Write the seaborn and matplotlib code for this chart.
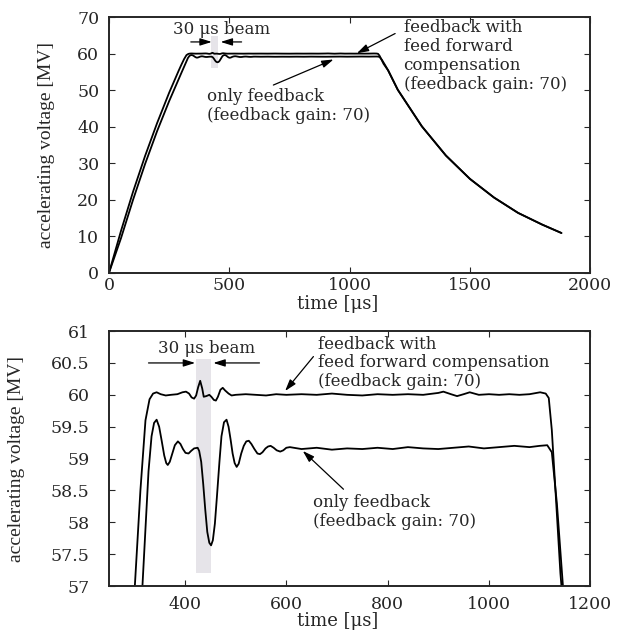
import numpy as np
import seaborn as sns
import matplotlib.pyplot as plt

# feedback with feed forward compensation (time in us, voltage in MV)
t_ff = [0, 50, 100, 150, 200, 250, 290, 301, 312, 322, 330, 337, 344, 352, 362, 372, 385,
        395, 402, 408, 413, 418, 422, 426, 430, 434, 437, 442, 448, 452, 457, 461, 465, 470,
        474.5, 479, 486, 492, 500, 520, 540, 560, 580, 600, 630, 660, 690, 720, 750, 780,
        810, 840, 870, 900, 910, 925, 937, 950, 962, 980, 1000, 1020, 1040, 1060, 1080,
        1101, 1112, 1118, 1124, 1132, 1141, 1160, 1200, 1300, 1400, 1500, 1600, 1700,
        1800, 1880]
v_ff = [0, 11.5, 22.2, 32.0, 41.0, 49.3, 55.4, 57.0, 58.5, 59.6, 59.93, 60.02, 60.04, 60.01,
        59.99, 60.0, 60.01, 60.04, 60.05, 60.02, 59.96, 59.94, 59.99, 60.12, 60.22, 60.1,
        59.97, 59.98, 60.0, 59.97, 59.92, 59.91, 59.97, 60.08, 60.11, 60.07, 60.02, 59.99,
        60.0, 60.01, 60.0, 59.99, 60.01, 60.0, 60.01, 60.0, 60.02, 60.0, 59.99, 60.01, 60.0,
        60.01, 60.0, 60.03, 60.05, 60.01, 59.98, 60.01, 60.04, 60.0, 60.01, 60.0, 60.01,
        60.0, 60.01, 60.04, 60.02, 59.95, 59.45, 58.4, 57.2, 55.4, 50.1, 40.1, 32.1, 25.7,
        20.6, 16.4, 13.2, 10.9]

# only feedback
t_fb = [0, 50, 100, 150, 200, 250, 300, 316, 322, 328, 334, 339, 344, 349, 354, 359, 363,
        366, 370, 375, 380, 386, 391, 396, 401, 407, 412, 418, 425, 428, 432, 436, 440, 444,
        448, 451.5, 455, 459, 463, 468, 472, 477, 482, 486, 490, 494, 498, 502, 506, 511,
        516, 521, 526, 531, 537, 543, 548, 553, 559, 564, 569, 575, 581, 588, 594, 600, 607,
        630, 660, 690, 720, 750, 780, 810, 840, 870, 900, 930, 960, 990, 1020, 1050, 1080,
        1100, 1115, 1124, 1134, 1146, 1160, 1200, 1300, 1400, 1500, 1600, 1700, 1800, 1880]
v_fb = [0, 9.5, 20.0, 29.8, 38.8, 47.0, 54.6, 57.0, 57.9, 58.8, 59.35, 59.56, 59.61, 59.5,
        59.28, 59.05, 58.93, 58.9, 58.95, 59.08, 59.21, 59.27, 59.23, 59.15, 59.09, 59.08,
        59.12, 59.16, 59.17, 59.12, 58.95, 58.6, 58.2, 57.85, 57.68, 57.64, 57.72, 57.98,
        58.4, 58.95, 59.35, 59.57, 59.61, 59.5, 59.3, 59.08, 58.93, 58.87, 58.92, 59.08,
        59.2, 59.27, 59.28, 59.23, 59.15, 59.08, 59.07, 59.1, 59.16, 59.19, 59.2, 59.17,
        59.13, 59.11, 59.13, 59.17, 59.18, 59.15, 59.17, 59.14, 59.16, 59.15, 59.17, 59.15,
        59.18, 59.16, 59.15, 59.17, 59.19, 59.16, 59.18, 59.2, 59.18, 59.2, 59.21, 59.1,
        58.3, 57.0, 55.4, 50.1, 40.1, 32.1, 25.7, 20.6, 16.4, 13.2, 10.9]

beam_t = [422, 452]

sns.set_style("ticks")
plt.rcParams['font.family'] = ['DejaVu Serif']

fig = plt.figure(figsize=(6.3, 6.33), dpi=100)
ax1 = fig.add_axes([0.173, 0.569, 0.764, 0.404])
ax2 = fig.add_axes([0.173, 0.074, 0.764, 0.403])

arrow = dict(arrowstyle='-|>,head_length=0.7,head_width=0.22', color='black', lw=0.9,
             shrinkA=0, shrinkB=0)
txt = dict(fontsize=12, family='DejaVu Serif', linespacing=1.15)

for ax in (ax1, ax2):
    sns.lineplot(x=t_ff, y=v_ff, ax=ax, color='black', lw=1.3, estimator=None)
    sns.lineplot(x=t_fb, y=v_fb, ax=ax, color='black', lw=1.3, estimator=None)
    ax.tick_params(direction='in', top=True, right=True, length=4, width=0.8,
                   labelsize=12.5)
    for s in ax.spines.values():
        s.set_linewidth(1.4)
    ax.set_ylabel('accelerating voltage [MV]', family='Liberation Serif', fontsize=14)
    ax.set_xlabel('time [μs]', fontsize=13)

# top: overview
ax1.fill_between(beam_t, 56, 64.8, color='#e6e4e9', lw=0, zorder=0)
ax1.set_xlim(0, 2000)
ax1.set_ylim(0, 70)
ax1.set_xticks([0, 500, 1000, 1500, 2000])
ax1.set_yticks(np.arange(0, 71, 10))
ax1.tick_params(axis='y', pad=7)
ax1.tick_params(axis='x', pad=3)
ax1.yaxis.set_label_coords(-0.112, 0.5)
ax1.xaxis.set_label_coords(0.476, -0.088)
ax1.text(468, 66.7, '30 μs beam', ha='center', va='center', **txt)
ax1.annotate('', xy=(427, 63.2), xytext=(340, 63.2), arrowprops=arrow)
ax1.annotate('', xy=(464, 63.2), xytext=(551, 63.2), arrowprops=arrow)
ax1.annotate('', xy=(1030, 60.1), xytext=(1189, 65.5), arrowprops=arrow)
ax1.text(1224, 69.5, 'feedback with\nfeed forward\ncompensation\n(feedback gain: 70)',
         ha='left', va='top', **txt)
ax1.annotate('', xy=(933, 58.4), xytext=(683, 51.4), arrowprops=arrow)
ax1.text(406, 50.5, 'only feedback\n(feedback gain: 70)', ha='left', va='top', **txt)

# bottom: flat top detail
ax2.fill_between(beam_t, 57.2, 60.56, color='#e6e4e9', lw=0, zorder=0)
ax2.set_xlim(250, 1200)
ax2.set_ylim(57, 61)
ax2.set_xticks([400, 600, 800, 1000, 1200])
ax2.set_yticks(np.arange(57, 61.01, 0.5))
ax2.set_yticklabels(['%g' % v for v in np.arange(57, 61.01, 0.5)])
ax2.tick_params(axis='y', pad=14)
ax2.tick_params(axis='x', pad=7)
ax2.yaxis.set_label_coords(-0.175, 0.5)
ax2.xaxis.set_label_coords(0.476, -0.1)
ax2.text(443, 60.73, '30 μs beam', ha='center', va='center', **txt)
ax2.annotate('', xy=(420, 60.5), xytext=(328, 60.5), arrowprops=arrow)
ax2.annotate('', xy=(456, 60.5), xytext=(547, 60.5), arrowprops=arrow)
ax2.annotate('', xy=(597.6, 60.06), xytext=(653.5, 60.6), arrowprops=arrow)
ax2.text(663, 60.93, 'feedback with\nfeed forward compensation\n(feedback gain: 70)',
         ha='left', va='top', **txt)
ax2.annotate('', xy=(632.5, 59.12), xytext=(712.8, 58.52), arrowprops=arrow)
ax2.text(653, 58.45, 'only feedback\n(feedback gain: 70)', ha='left', va='top', **txt)

fig.savefig('out.png', dpi=100)
